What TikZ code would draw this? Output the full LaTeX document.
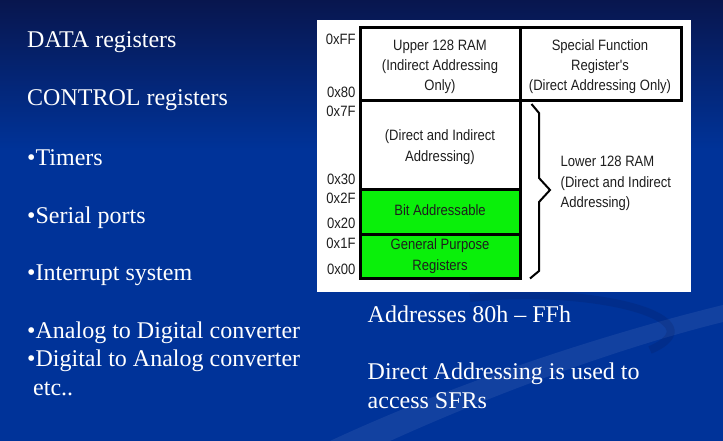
\documentclass[tikz,border=0pt]{standalone}
\usepackage{fontspec}
\setmainfont{Liberation Serif}
\newfontfamily\memfont[FakeStretch=0.87]{Liberation Sans}
\definecolor{slideblue}{RGB}{0,51,153}
\definecolor{slidetop}{RGB}{8,22,78}
\definecolor{ramgreen}{RGB}{10,240,10}
\definecolor{memink}{RGB}{30,30,30}

\tikzset{
	slidetext/.style={text=white, anchor=base west, inner sep=0pt, font=\fontsize{24}{28.7}\selectfont},
	memtext/.style={text=memink, inner sep=0pt, align=center, anchor=base, font=\memfont\fontsize{15}{20.3}\selectfont},
	addrlbl/.style={text=memink, inner sep=0pt, anchor=base east, font=\memfont\fontsize{15}{18}\selectfont},
	memline/.style={line width=3pt, black},
}

\begin{document}
\begin{tikzpicture}[x=1pt, y=-1pt]

	\useasboundingbox (0,0) rectangle (723,441);

	% slide background
	\shade [top color=slidetop, bottom color=slideblue] (0,0) rectangle (723,150);
	\fill [slideblue] (0,150) rectangle (723,441);
	\fill [white, opacity=0.07] (330,441) .. controls (450,385) and (600,335) .. (723,305) -- (723,322) .. controls (610,350) and (480,400) .. (390,441) -- cycle;
	\draw [slidetop, opacity=0.18, line width=8pt] (470,298) .. controls (600,285) and (720,320) .. (650,350);

	% left column
	\node [slidetext] (data) at (27,48) {DATA registers};
	\node [slidetext] (ctrl) at (27,106) {CONTROL registers};
	\node [slidetext] (timers) at (27,165.5) {•Timers};
	\node [slidetext] (serial) at (27,223) {•Serial ports};
	\node [slidetext] (intr) at (27,280.7) {•Interrupt system};
	\node [slidetext] (adc) at (27,338) {•Analog to Digital converter};
	\node [slidetext] (dac) at (27,366.7) {•Digital to Analog converter};
	\node [slidetext] (etc) at (33,395) {etc..};

	% memory map
	\fill [white] (317,20) rectangle (691,292);
	\fill [ramgreen] (360,189) rectangle (520,278);
	\draw [memline] (360,28) rectangle (681,101);
	\draw [memline] (520,28) -- (520,101);
	\draw [memline] (360,101) -- (360,278) -- (520,278) -- (520,101);
	\draw [memline] (360,189) -- (520,189);
	\draw [memline] (360,234) -- (520,234);
	\draw [line width=2pt, line join=miter] (531.5,104) -- (539,113) -- (539,178) -- (550,190) -- (539,202) -- (539,271) -- (530,278.5);

	% (base = last line)
	\node [memtext] (upper) at (440,91) {Upper 128 RAM\\(Indirect Addressing\\Only)};
	\node [memtext] (sfr) at (600,91) {Special Function\\Register's\\(Direct Addressing Only)};
	\node [memtext] (dirind) at (440,161) {(Direct and Indirect\\Addressing)};
	\node [memtext, anchor=base west, align=left] (lower) at (560.5,207.3) {Lower 128 RAM\\(Direct and Indirect\\Addressing)};
	\node [memtext] (bitadr) at (440,215) {Bit Addressable};
	\node [memtext] (gpreg) at (440,270) {General Purpose\\Registers};

	\node [addrlbl] (aFF) at (355.7,44.3) {0xFF};
	\node [addrlbl] (a80) at (355.7,97.3) {0x80};
	\node [addrlbl] (a7F) at (355.7,116.7) {0x7F};
	\node [addrlbl] (a30) at (355.7,185) {0x30};
	\node [addrlbl] (a2F) at (355.7,204) {0x2F};
	\node [addrlbl] (a20) at (355.7,228.3) {0x20};
	\node [addrlbl] (a1F) at (355.7,248.3) {0x1F};
	\node [addrlbl] (a00) at (355.7,274.3) {0x00};

	% right column
	\node [slidetext] (addr) at (367.5,322) {Addresses 80h – FFh};
	\node [slidetext] (direct) at (367.5,379.5) {Direct Addressing is used to};
	\node [slidetext] (sfrs) at (367.5,408.5) {access SFRs};

\end{tikzpicture}
\end{document}
